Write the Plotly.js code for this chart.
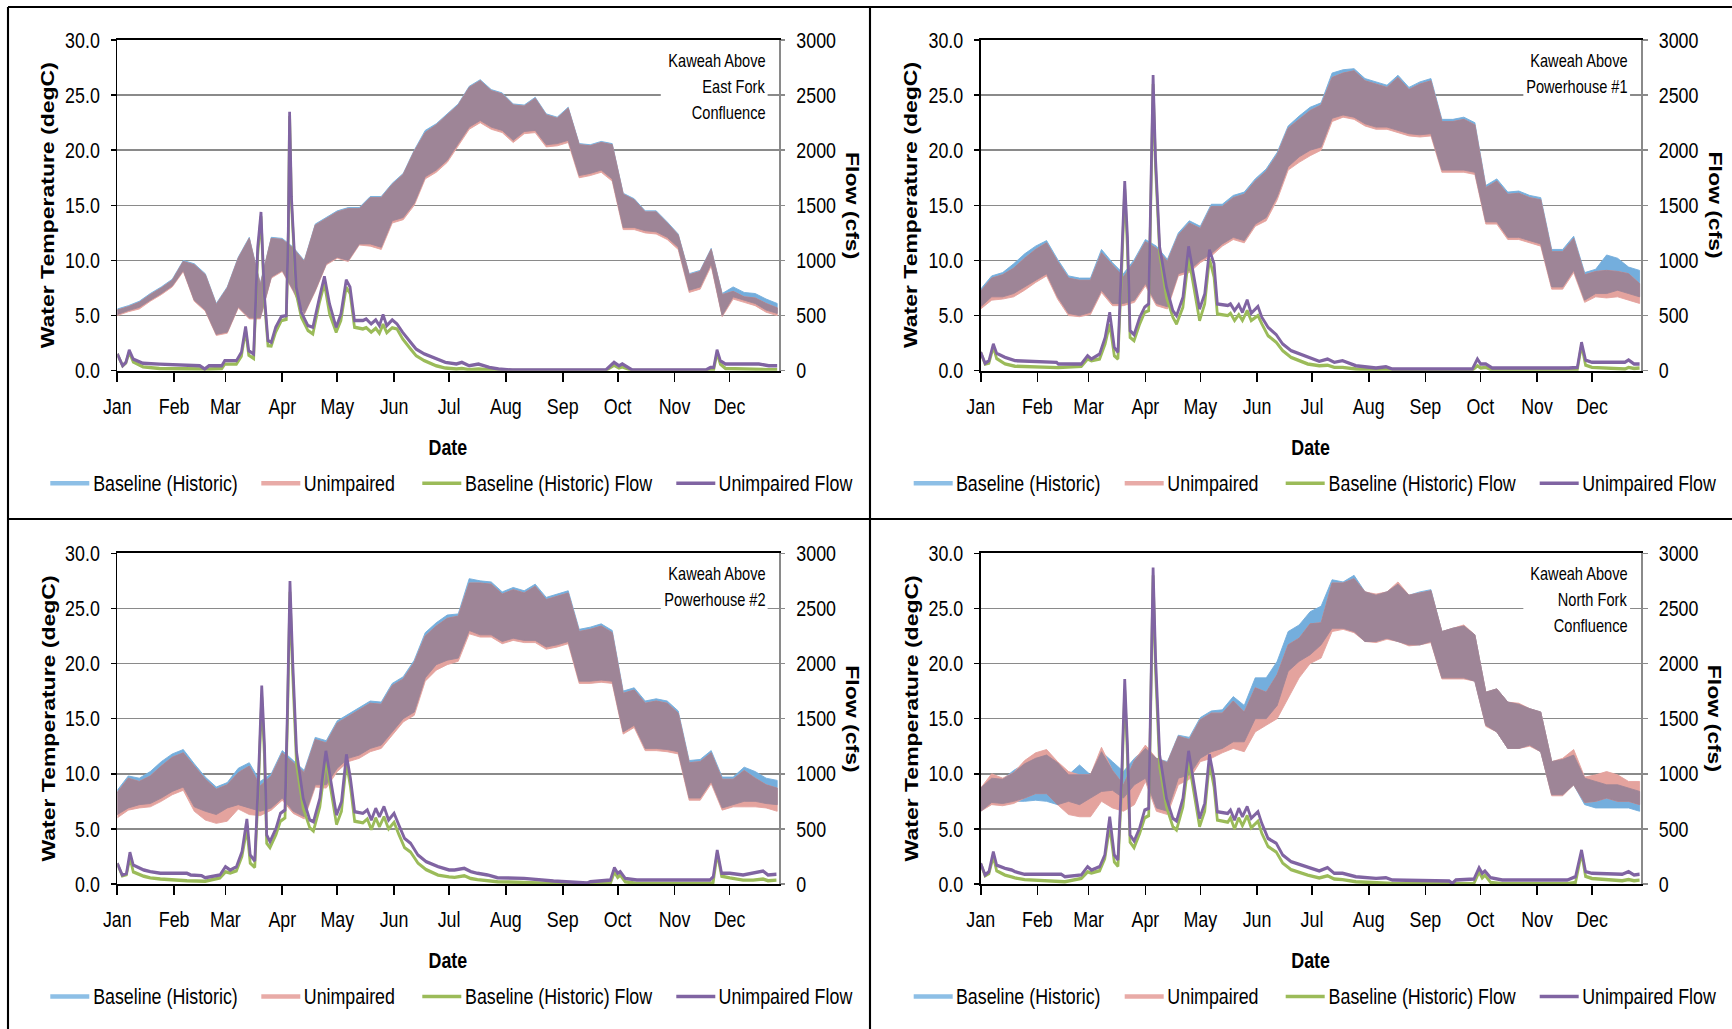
<!DOCTYPE html>
<html>
<head>
<meta charset="utf-8">
<script src="https://cdn.plot.ly/plotly-3.0.1.min.js"></script>
<style>
html,body{margin:0;padding:0;background:#fff;overflow:hidden;width:1732px;height:1029px;}
#chart{width:2138px;height:1029px;transform:scaleX(0.81010);transform-origin:0 0;}
</style>
</head>
<body>
<div id="chart"></div>
<script>
// ---------------- DATA ----------------
const months = ['Jan','Feb','Mar','Apr','May','Jun','Jul','Aug','Sep','Oct','Nov','Dec'];
const monthStartDays = [0,31,59,90,120,151,181,212,243,273,304,334];
const seriesNames = ['Baseline (Historic)','Unimpaired','Baseline (Historic) Flow','Unimpaired Flow'];
const panelLabels = [
  ['Kaweah Above','East Fork','Confluence'],
  ['Kaweah Above','Powerhouse #1'],
  ['Kaweah Above','Powerhouse #2'],
  ['Kaweah Above','North Fork','Confluence']
];
const tempAxisTitle = 'Water Temperature (degC)';
const flowAxisTitle = 'Flow (cfs)';
const xAxisTitle = 'Date';

// day-of-year sample points for the temperature envelopes
const tempDays = [0,6,12,18,24,30,36,42,48,54,60,66,72,78,84,90,96,102,108,114,120,126,132,138,144,150,156,162,168,174,180,186,192,198,204,210,216,222,228,234,240,246,252,258,264,270,276,282,288,294,300,306,312,318,324,330,336,342,348,354,360];

// Panel 1: Kaweah Above East Fork Confluence
const p1BaseHi = [5.6,5.9,6.3,7.0,7.6,8.3,10.0,9.7,8.8,6.1, 7.6,10.3,12.1,7.9,12.1,12.0,11.2,10.0,13.3,13.9, 14.5,14.8,14.8,15.8,15.8,17.0,17.9,20.0,21.8,22.4, 23.3,24.2,25.8,26.4,25.5,25.2,24.2,24.1,24.8,23.3, 23.0,23.9,20.6,20.5,20.8,20.6,16.1,15.6,14.5,14.5, 13.5,12.4,8.8,9.1,11.1,7.0,7.6,7.1,7.0,6.5, 6.1];
const p1BaseLo = [5.1,5.45,5.75,6.4,7.0,7.7,9.1,6.4,5.5,3.3, 3.5,5.8,4.8,4.8,8.5,9.1,7.3,5.2,7.3,9.7, 10.3,10.0,11.5,11.5,11.2,13.6,13.9,15.2,17.6,18.2, 19.1,20.6,22.1,22.7,22.1,21.8,20.9,21.7,21.8,20.5, 20.6,20.9,17.7,17.9,18.2,17.4,13.0,13.0,12.7,12.6, 12.1,11.2,7.3,7.6,9.7,5.0,6.7,6.4,6.1,5.5, 5.2];
const p1UnimpHi = [5.5,5.8,6.2,6.9,7.5,8.2,9.9,9.6,8.7,6.0, 7.5,10.2,12.0,7.8,12.0,11.9,11.1,9.9,13.2,13.8, 14.4,14.7,14.7,15.7,15.7,16.9,17.8,19.9,21.6,22.3, 23.2,24.1,25.7,26.3,25.4,25.1,24.1,24.0,24.7,23.2, 22.9,23.8,20.5,20.4,20.7,20.5,16.0,15.5,14.4,14.4, 13.4,12.3,8.7,9.0,11.0,6.9,7.2,6.7,6.6,6.1, 5.7];
const p1UnimpLo = [5.0,5.35,5.6,6.3,6.9,7.6,9.0,6.3,5.4,3.2, 3.4,5.7,4.7,4.7,8.4,9.0,7.2,5.1,7.2,9.6, 10.2,9.9,11.4,11.3,11.0,13.4,13.7,15.0,17.4,18.0, 18.9,20.4,21.9,22.5,21.9,21.6,20.7,21.5,21.6,20.3, 20.4,20.7,17.5,17.7,18.0,17.2,12.8,12.8,12.5,12.4, 11.9,11.0,7.1,7.4,9.5,4.9,6.5,6.2,5.9,5.3, 5.0];
const p1FlowDays = [0,2.9,4.7,6.5,8.7,14,23,45,47.7,50,57,58.6,65,67.7,70,71.7,74.4,76.6,78.4,80.2,82.2,84,86.4,89.5,92.2,93.3,94,95,97.6,100.4,104,106.7,110.3,113,115.8,119.4,122,124.9,127,129.4,134,135.8,138.5,141,143,145,147,150,152.6,155.7,160,163,167.5,174,179,185,188,192,197,203,208,215.6,266.4,271,273.7,275.5,281,321,323.6,325.4,327.2,329,331.8,339,350,355.4,360];
const p1BaseFlow = [152,45,70,167,80,35,20,15,10,15,20,60,60,130,364,140,110,1050,1400,640,227,225,350,455,465,1220,2310,1520,700,485,364,333,620,788,515,348,455,758,700,394,379,390,350,385,340,420,345,390,379,288,197,136,91,45,24,15,20,10,15,5,3,2,2,50,25,35,2,2,5,10,160,60,20,15,10,10,10];
const p1UnimpFlow = [152,45,76,188,106,67,60,45,15,45,45,91,91,167,400,182,152,1121,1440,697,273,258,394,491,500,1273,2348,1576,758,530,409,394,667,855,606,394,515,824,758,455,455,470,424,461,409,509,409,461,424,348,258,197,152,106,76,61,76,45,61,30,15,6,6,76,45,61,6,6,30,30,188,91,61,61,61,45,45];

// Panel 2: Kaweah Above Powerhouse #1
const p2BaseHi = [7.4,8.6,8.9,9.7,10.6,11.3,11.8,10.1,8.6,8.4, 8.4,11.0,9.8,8.8,10.1,11.9,11.3,10.1,12.5,13.6, 13.1,15.1,15.1,15.9,16.2,17.4,18.3,19.8,22.2,23.1, 23.9,24.3,27.0,27.3,27.4,26.5,26.2,25.9,26.8,25.7, 26.2,26.5,22.8,22.8,23.0,22.5,16.8,17.4,16.2,16.3, 15.9,15.7,11.0,11.0,12.2,8.9,9.2,10.5,10.2,9.4, 9.1];
const p2BaseLo = [5.8,6.7,6.7,7.0,7.6,8.2,8.8,6.7,5.2,5.0, 5.3,7.3,6.1,6.1,6.4,7.9,6.1,5.8,8.8,9.1, 10.0,10.6,11.5,12.1,11.8,13.3,13.9,15.8,18.5,19.4, 20.0,20.3,22.9,23.2,23.0,22.4,22.1,22.1,21.8,21.5, 21.4,21.5,18.2,18.2,18.2,18.0,13.5,13.5,12.1,12.1, 11.8,11.5,7.6,7.6,9.1,6.4,7.0,7.0,7.3,7.0, 6.7];
const p2UnimpHi = [7.2,8.4,8.7,9.3,10.2,11.0,11.6,9.9,8.4,8.2, 8.2,10.7,9.6,8.5,9.9,11.7,11.1,9.9,12.3,13.4, 12.9,14.9,14.9,15.7,16.0,17.2,18.1,19.6,22.0,22.8, 23.6,24.1,26.6,27.0,27.2,26.3,26.0,25.7,26.6,25.5, 26.0,26.3,22.6,22.6,22.8,22.3,16.6,17.2,16.0,16.1, 15.7,15.5,10.8,10.8,12.0,8.7,9.0,9.1,9.0,8.8, 7.9];
const p2UnimpLo = [5.6,6.4,6.5,6.7,7.3,8.0,8.6,6.5,5.0,4.9, 5.1,7.1,5.9,5.9,6.2,7.7,5.9,5.6,8.6,8.9, 9.8,10.4,11.3,11.9,11.6,13.1,13.6,15.5,18.2,18.9, 19.5,20.0,22.6,23.0,22.8,22.2,21.9,21.9,21.6,21.3, 21.2,21.3,18.0,18.0,18.0,17.8,13.3,13.3,11.9,11.9, 11.6,11.3,7.4,7.4,8.9,6.2,6.7,6.6,6.7,6.4, 6.1];
const p2FlowDays = [0,2.4,4.5,6.9,8.7,13.3,18.7,41.5,42.4,55,58.4,60.5,65,68,70.5,73,75,77,78.7,80.2,81.6,83.8,86.9,89.6,91.8,92.9,94.2,95.5,97.8,101.5,105,107,110.5,113.6,116.5,119.6,122.4,125,127.5,129.3,135,136.5,138.7,141,143,145.6,147.8,151.5,153.6,157,161.5,165,169.6,178.7,185,189.5,193.2,197.7,205,216,221.4,225,268.6,271.4,273.2,276,279.5,321.4,326,328.3,330.5,334,352,354,357,360];
const p2BaseFlow = [167,60,70,215,110,61,40,30,28,40,106,90,106,242,424,136,106,900,1650,1100,303,273,424,530,545,1480,2600,1850,1060,667,485,424,576,1030,758,455,606,1015,848,515,500,520,455,509,455,545,455,500,424,318,258,182,121,61,45,50,30,30,15,6,10,6,6,45,25,30,6,6,10,230,50,30,15,30,20,24];
const p2UnimpFlow = [167,67,91,242,158,121,91,76,61,61,136,106,152,303,530,212,167,970,1721,1212,364,327,485,576,606,1576,2682,1939,1121,758,545,500,667,1127,848,560,697,1097,970,606,591,606,545,600,530,642,521,582,485,394,327,242,182,121,85,106,76,91,45,24,36,15,15,106,61,61,24,24,30,258,97,76,76,97,61,61];

// Panel 3: Kaweah Above Powerhouse #2
const p3BaseHi = [8.5,9.8,9.6,10.2,11.1,11.8,12.2,10.9,9.7,8.8, 9.2,10.5,11.0,9.3,10.0,12.1,11.2,10.3,13.3,13.0, 14.8,15.4,16.0,16.6,16.5,18.2,18.8,20.3,22.8,23.7, 24.4,24.5,27.7,27.5,27.4,26.5,26.9,26.6,27.2,26.0, 26.3,26.6,23.1,23.3,23.6,23.0,17.5,17.8,16.6,16.8, 16.6,15.7,11.2,11.3,12.1,9.7,9.7,10.6,10.2,9.6, 9.4];
const p3BaseLo = [6.3,6.9,7.2,7.3,7.8,8.4,8.8,7.0,6.6,6.3, 6.9,7.2,6.9,6.6,6.9,7.8,6.6,6.1,9.0,9.0, 10.5,11.4,11.7,12.3,12.6,13.8,15.0,15.6,18.7,19.9, 20.3,20.5,23.0,22.6,22.6,22.0,22.3,22.1,22.1,21.5, 21.7,22.0,18.4,18.4,18.5,18.4,13.8,14.4,12.3,12.3, 12.2,12.0,7.8,7.8,9.3,6.9,7.2,7.5,7.5,7.3, 7.2];
const p3UnimpHi = [8.3,9.6,9.3,9.8,10.7,11.5,11.9,10.7,9.5,8.6, 9.0,10.1,10.7,8.9,9.8,11.9,11.0,10.1,13.1,12.8, 14.6,15.2,15.8,16.4,16.3,18.0,18.6,20.1,22.5,23.4, 24.1,24.3,27.3,27.3,27.2,26.3,26.7,26.4,27.0,25.8, 26.1,26.4,22.9,23.1,23.4,22.8,17.3,17.6,16.4,16.6, 16.4,15.5,11.0,11.1,11.9,9.5,9.5,10.3,9.6,9.0, 8.7];
const p3UnimpLo = [6.0,6.7,6.9,7.0,7.5,8.1,8.5,6.6,5.8,5.5, 5.7,6.8,6.3,6.2,6.7,7.6,6.4,5.9,8.8,8.7, 10.2,11.1,11.4,12.0,12.3,13.5,14.7,15.3,18.4,19.4, 19.9,20.2,22.7,22.4,22.4,21.8,22.1,21.9,21.9,21.3, 21.5,21.8,18.2,18.2,18.3,18.2,13.6,14.2,12.1,12.1, 12.0,11.8,7.6,7.6,9.1,6.7,7.0,7.0,7.0,6.9, 6.6];
const p3FlowDays = [0,2.7,5,6.9,8.7,14.5,18,23.5,38,40,46,48,56,59,61.6,65,68,70.7,72.5,75,77,78.8,80.3,81.5,83.3,86.6,89,91.5,92.8,94.2,95.7,97.8,101.4,105,107,110.5,113.8,116.8,119.6,122.3,125,127.2,129.5,134,136.4,138.6,141,143,145.5,148,151,153.6,156.7,160,164,168.5,175,181,184,189.3,192.9,196.5,202,207.4,221.9,238,254.5,256.3,258,269,271.2,273,274.4,277.1,283.5,323.3,325.1,327.3,329.7,334.2,341.4,346.9,352.3,355,359.6];
const p3BaseFlow = [187,75,85,240,110,70,55,45,30,30,28,25,55,110,100,120,250,500,190,150,880,1700,1150,370,330,450,570,600,1460,2650,1900,1080,690,510,480,700,1130,820,540,660,1100,880,570,555,590,495,600,520,610,500,560,450,330,290,190,130,80,65,60,75,50,40,30,20,15,5,3,2,4,5,110,60,80,20,5,5,15,280,70,55,35,35,45,30,35];
const p3UnimpFlow = [187,82,97,287,172,127,112,97,97,82,76,57,82,157,127,157,293,590,263,209,959,1799,1261,445,384,505,641,671,1563,2749,2017,1200,777,581,565,777,1207,898,626,747,1176,959,656,641,671,581,686,611,702,581,641,535,414,369,263,203,157,127,127,142,112,97,82,57,51,27,15,9,21,36,148,97,112,51,36,36,66,308,97,97,82,97,118,82,88];

// Panel 4: Kaweah Above North Fork Confluence
const p4BaseHi = [8.7,9.6,9.5,10.3,10.9,11.4,11.7,11.0,9.9,10.8, 9.9,12.0,11.1,10.2,11.4,12.3,11.4,11.1,13.5,13.3, 15.1,15.7,15.8,17.0,16.2,18.7,18.7,20.2,22.9,23.5, 24.7,25.2,27.6,27.4,28.0,26.5,26.2,26.5,27.2,26.2, 26.5,26.7,22.9,23.2,23.4,22.6,17.4,17.7,16.5,16.3, 15.9,15.6,11.1,11.3,11.7,9.6,9.3,9.0,9.0,8.7, 8.4];
const p4BaseLo = [6.6,7.4,7.3,7.5,7.5,7.6,7.5,7.2,7.5,7.2, 7.8,8.4,8.5,7.8,9.0,9.6,6.9,6.6,9.6,9.9, 11.4,12.0,12.3,12.9,12.9,15.0,15.0,16.2,19.3,20.2, 20.8,21.7,23.2,23.2,22.9,22.0,22.0,22.3,22.0,21.7, 21.7,22.0,18.7,18.7,18.7,18.4,14.4,13.8,12.3,12.3, 12.6,12.0,8.1,8.1,9.0,7.2,6.9,6.9,6.9,6.9, 6.6];
const p4UnimpHi = [8.7,10.0,9.6,10.1,11.2,11.9,12.2,11.1,10.2,9.9, 9.9,12.4,10.3,9.0,11.2,12.6,11.4,11.0,13.4,13.1, 14.9,15.5,15.5,16.6,15.6,17.8,17.4,19.0,21.7,22.3, 23.6,23.7,27.3,27.3,27.7,26.5,26.3,26.5,27.4,26.2, 26.4,26.6,22.9,23.2,23.5,22.6,17.4,17.7,16.5,16.4, 15.9,15.6,11.1,11.4,12.2,9.7,9.9,10.2,9.9,9.3, 9.3];
const p4UnimpLo = [6.6,7.2,7.1,7.3,7.8,8.2,8.2,7.2,6.3,6.1, 6.1,7.5,6.9,6.6,7.2,9.3,6.6,6.3,9.0,9.5, 11.1,11.4,11.9,12.3,12.0,13.8,14.4,15.0,16.8,18.7, 20.0,20.5,22.9,23.1,22.8,22.0,21.9,22.2,22.0,21.6, 21.7,21.9,18.6,18.6,18.6,18.4,14.3,13.8,12.3,12.3, 12.5,12.0,8.0,8.0,9.0,7.4,7.5,7.8,7.5,7.5, 7.2];
const p4FlowDays = [0,2.4,4.5,6.9,8.7,13.3,16.9,18.7,24,44,46,55,58.4,60.5,65,67.8,70.5,73,75,77,78.7,80.2,81.6,83.8,86.9,89.6,91.8,92.9,94.2,95.5,97.8,101.5,105,107,110.5,113.6,116.5,119.6,122.4,125,127.5,129.3,135,136.5,138.7,141,143,145.6,147.8,151.5,153.6,157,161.5,165,169.6,178.7,185,189.5,193.2,197.7,205,216,221.4,225,256,257.7,259.6,269.5,272.3,274,275.5,278.6,285,320.5,325,328.3,330.5,334,350.5,354,357,360];
const p4BaseFlow = [187,75,95,250,120,80,65,55,40,25,20,50,110,100,120,230,520,200,160,880,1760,1150,380,330,460,600,620,1600,2800,1950,1060,700,520,490,700,1120,820,520,660,1100,880,580,560,600,500,600,530,620,510,570,460,340,290,190,130,80,55,75,45,40,20,10,12,5,3,0,3,5,110,55,80,15,3,3,15,280,70,50,30,40,30,35];
const p4UnimpFlow = [187,82,112,293,172,142,127,112,88,88,66,82,157,127,157,263,611,263,218,959,1860,1261,445,390,511,671,686,1715,2870,2078,1170,777,596,572,777,1207,898,596,732,1176,959,656,641,671,581,686,611,702,596,656,550,414,369,263,203,157,118,148,97,97,66,51,57,36,27,6,36,45,148,97,118,57,36,36,66,308,112,97,88,112,82,88];

// ---------------- STYLE / LAYOUT ----------------
// The page is drawn on a wider canvas and squeezed horizontally (like the reference image).
const W = 1732, H = 1029, LOGICAL_W = 2138;
const COLORS = {base:'#74AEDD', unimp:'#E4A39E', overlap:'#9E8597', baseFlow:'#9BBB59', unimpFlow:'#8064A2', grid:'#8A8A8A'};
const FONT = '"Liberation Sans", Arial, sans-serif';
const px = x => x / W;          // paper fraction from final pixel position
const py = y => 1 - y / H;

const panels = [
  {L:117.3, R:779,    T:40,    B:370.7, bHi:p1BaseHi, bLo:p1BaseLo, uHi:p1UnimpHi, uLo:p1UnimpLo, fd:p1FlowDays, bf:p1BaseFlow, uf:p1UnimpFlow, label:panelLabels[0]},
  {L:980.7, R:1641.4, T:40,    B:370.7, bHi:p2BaseHi, bLo:p2BaseLo, uHi:p2UnimpHi, uLo:p2UnimpLo, fd:p2FlowDays, bf:p2BaseFlow, uf:p2UnimpFlow, label:panelLabels[1]},
  {L:117.3, R:779,    T:553.3, B:884,   bHi:p3BaseHi, bLo:p3BaseLo, uHi:p3UnimpHi, uLo:p3UnimpLo, fd:p3FlowDays, bf:p3BaseFlow, uf:p3UnimpFlow, label:panelLabels[2]},
  {L:980.7, R:1641.4, T:553.3, B:884,   bHi:p4BaseHi, bLo:p4BaseLo, uHi:p4UnimpHi, uLo:p4UnimpLo, fd:p4FlowDays, bf:p4BaseFlow, uf:p4UnimpFlow, label:panelLabels[3]}
];

function band(days, lo, hi, color, xr, yr, name) {
  return {
    type:'scatter', mode:'lines', name, showlegend:false, hoverinfo:'skip',
    x: days.concat(days.slice().reverse()),
    y: hi.concat(lo.slice().reverse()),
    fill:'toself', fillcolor:color, line:{color:color, width:1},
    xaxis:xr, yaxis:yr
  };
}

const data = [];
const layout = {
  width:LOGICAL_W, height:H, autosize:false,
  margin:{l:0, r:0, t:0, b:0, pad:0},
  paper_bgcolor:'#fff', plot_bgcolor:'rgba(0,0,0,0)',
  showlegend:false,
  shapes:[], annotations:[]
};

panels.forEach((p, i) => {
  const xr = i === 0 ? 'x' : 'x' + (i + 1);
  const yT = 'y' + (i === 0 ? '' : (2 * i + 1));
  const yF = 'y' + (2 * i + 2);
  const xName = i === 0 ? 'xaxis' : 'xaxis' + (i + 1);
  const yTName = 'yaxis' + (i === 0 ? '' : (2 * i + 1));
  const yFName = 'yaxis' + (2 * i + 2);
  const tickFont = {family:FONT, size:22, color:'#000'};

  layout[xName] = {
    domain:[px(p.L), px(p.R)], anchor:yT, range:[0, 361],
    tickmode:'array', tickvals:monthStartDays, ticktext:months,
    ticks:'outside', ticklen:9, tickwidth:2, tickcolor:'#000',
    showline:true, linecolor:'#000', linewidth:2, mirror:true,
    showgrid:false, zeroline:false, tickfont:tickFont, ticklabelstandoff:6,
    fixedrange:true
  };
  layout[yTName] = {
    domain:[py(p.B), py(p.T)], anchor:xr, range:[0, 30],
    tickmode:'linear', tick0:0, dtick:5, tickformat:'.1f',
    ticks:'outside', ticklen:6, tickwidth:1.5, tickcolor:'#000',
    showline:true, linecolor:'#000', linewidth:2.2,
    showgrid:true, gridcolor:COLORS.grid, gridwidth:1.5, zeroline:false,
    tickfont:tickFont, ticklabelstandoff:9, fixedrange:true
  };
  layout[yFName] = {
    overlaying:yT, side:'right', anchor:xr, range:[0, 3000],
    tickmode:'linear', tick0:0, dtick:500,
    ticks:'outside', ticklen:6, tickwidth:1.5, tickcolor:COLORS.grid,
    showline:true, linecolor:COLORS.grid, linewidth:2,
    showgrid:false, zeroline:false, tickfont:tickFont, ticklabelstandoff:9,
    fixedrange:true
  };

  // overlap envelope derived from both series
  const oLo = p.bLo.map((v, k) => Math.max(v, p.uLo[k]));
  const oHi = p.bHi.map((v, k) => Math.max(Math.min(v, p.uHi[k]), oLo[k]));

  data.push(band(tempDays, p.bLo, p.bHi, COLORS.base, xr, yT, seriesNames[0]));
  data.push(band(tempDays, p.uLo, p.uHi, COLORS.unimp, xr, yT, seriesNames[1]));
  data.push(band(tempDays, oLo, oHi, COLORS.overlap, xr, yT, 'overlap'));
  data.push({type:'scatter', mode:'lines', name:seriesNames[2], x:p.fd, y:p.bf, xaxis:xr, yaxis:yF,
             line:{color:COLORS.baseFlow, width:3.4}, hoverinfo:'skip', showlegend:false});
  data.push({type:'scatter', mode:'lines', name:seriesNames[3], x:p.fd, y:p.uf, xaxis:xr, yaxis:yF,
             line:{color:COLORS.unimpFlow, width:3.4}, hoverinfo:'skip', showlegend:false});

  // white box behind the location label (interrupts the gridline)
  layout.shapes.push({type:'rect', xref:xr, yref:yT, x0:296.5, x1:354.8, y0:23.6, y1:29.5,
                      fillcolor:'#fff', line:{width:0}, layer:'between'});
  // location label lines
  const labelY = [28.1, 25.75, 23.4];
  p.label.forEach((t, k) => {
    layout.annotations.push({xref:xr, yref:yT, x:354.4, y:labelY[k], text:t, showarrow:false,
      xanchor:'right', yanchor:'middle', font:{family:FONT, size:18, color:'#000'}});
  });

  // axis titles
  const midY = (p.T + p.B) / 2;
  layout.annotations.push({xref:'paper', yref:'paper', x:px(p.L - 69.5), y:py(midY), text:'<b>' + tempAxisTitle + '</b>',
    textangle:-90, showarrow:false, xanchor:'center', yanchor:'middle', font:{family:FONT, size:23, color:'#000'}});
  layout.annotations.push({xref:'paper', yref:'paper', x:px(p.R + 73.5), y:py(midY), text:'<b>' + flowAxisTitle + '</b>',
    textangle:90, showarrow:false, xanchor:'center', yanchor:'middle', font:{family:FONT, size:23, color:'#000'}});
  layout.annotations.push({xref:'paper', yref:'paper', x:px((p.L + p.R) / 2), y:py(p.B + 76.5), text:'<b>' + xAxisTitle + '</b>',
    showarrow:false, xanchor:'center', yanchor:'middle', font:{family:FONT, size:22, color:'#000'}});

  // legend row
  const ly = p.B + 112.5;
  const legendItems = [
    {off:-67, color:'#8DBFE6', w:4.5, name:seriesNames[0]},
    {off:144, color:'#E8ABA7', w:4.5, name:seriesNames[1]},
    {off:305, color:COLORS.baseFlow, w:3.5, name:seriesNames[2]},
    {off:559, color:COLORS.unimpFlow, w:3.5, name:seriesNames[3]}
  ];
  legendItems.forEach(it => {
    layout.shapes.push({type:'line', xref:'paper', yref:'paper',
      x0:px(p.L + it.off), x1:px(p.L + it.off + 39), y0:py(ly), y1:py(ly),
      line:{color:it.color, width:it.w}});
    layout.annotations.push({xref:'paper', yref:'paper', x:px(p.L + it.off + 41), y:py(ly), text:it.name,
      showarrow:false, xanchor:'left', yanchor:'middle', font:{family:FONT, size:22, color:'#000'}});
  });
});

// panel frame lines
[
  {x0:8, y0:7, x1:8, y1:1029, w:2.6},
  {x0:8, y0:7, x1:1732, y1:7, w:2},
  {x0:870, y0:7, x1:870, y1:1029, w:2.6},
  {x0:8, y0:519, x1:1732, y1:519, w:2}
].forEach(s => layout.shapes.push({type:'line', xref:'paper', yref:'paper',
  x0:px(s.x0), x1:px(s.x1), y0:py(s.y0), y1:py(s.y1), line:{color:'#000', width:s.w}}));

Plotly.newPlot('chart', data, layout, {displayModeBar:false, staticPlot:true});
</script>
</body>
</html>
